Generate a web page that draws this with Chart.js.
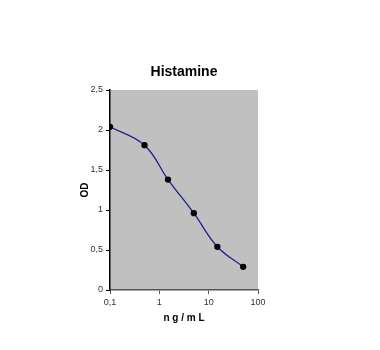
<!DOCTYPE html>
<html>
<head>
<meta charset="utf-8">
<script src="https://cdn.jsdelivr.net/npm/chart.js@4/dist/chart.umd.min.js"></script>
<style>
  html, body { margin: 0; padding: 0; background: #fff; }
  #wrap { width: 380px; height: 350px; }
</style>
</head>
<body>
<div id="wrap"><canvas id="c" width="380" height="350"></canvas></div>
<script>
const chartTitle = 'Histamine';
const concentrations = [0.1, 0.5, 1.5, 5, 15, 50];
const odValues = [2.04, 1.81, 1.38, 0.96, 0.54, 0.29];
const xTickValues = [0.1, 1, 10, 100];
const yTickValues = [0, 0.5, 1, 1.5, 2, 2.5];

const commaNum = v => String(v).replace('.', ',');
const fontFamily = 'Liberation Sans, Arial, sans-serif';

// grey plot area like the original spreadsheet chart, title centred over it
const plotDeco = {
  id: 'plotDeco',
  beforeDraw(chart) {
    const a = chart.chartArea;
    const ctx = chart.ctx;
    ctx.save();
    ctx.fillStyle = '#c0c0c0';
    ctx.fillRect(a.left, a.top, a.right - a.left, a.bottom - a.top);
    ctx.restore();
  },
  afterDraw(chart) {
    const a = chart.chartArea;
    const ctx = chart.ctx;
    ctx.save();
    ctx.fillStyle = '#000';
    ctx.font = 'bold 14px ' + fontFamily;
    ctx.textAlign = 'center';
    ctx.textBaseline = 'middle';
    ctx.fillText(chartTitle, (a.left + a.right) / 2, 72);
    ctx.restore();
  }
};

new Chart(document.getElementById('c'), {
  type: 'line',
  data: {
    datasets: [{
      data: concentrations.map((x, i) => ({ x: x, y: odValues[i] })),
      borderColor: '#20208c',
      borderWidth: 1.3,
      tension: 0.4,
      pointRadius: 2.5,
      pointBackgroundColor: '#000',
      pointBorderColor: '#000',
      fill: false
    }]
  },
  options: {
    responsive: false,
    animation: false,
    layout: { padding: { left: 75, right: 122, top: 90, bottom: 22 } },
    plugins: {
      legend: { display: false },
      tooltip: { enabled: false },
      title: { display: false }
    },
    scales: {
      x: {
        type: 'logarithmic',
        min: 0.1,
        max: 100,
        afterBuildTicks: s => { s.ticks = xTickValues.map(v => ({ value: v })); },
        afterFit: s => { s.height = 38; },
        grid: { drawOnChartArea: false, tickLength: 4, color: '#555' },
        border: { color: '#555', width: 1.5 },
        ticks: {
          callback: v => commaNum(v),
          color: '#333',
          padding: 3,
          maxRotation: 0,
          font: { family: fontFamily, size: 9 }
        },
        title: {
          display: true,
          text: 'n g / m L',
          color: '#000',
          font: { family: fontFamily, size: 10, weight: 'bold' },
          padding: { top: 4, bottom: 4 }
        }
      },
      y: {
        min: 0,
        max: 2.5,
        afterBuildTicks: s => { s.ticks = yTickValues.map(v => ({ value: v })); },
        afterFit: s => { s.width = 35; },
        grid: { drawOnChartArea: false, tickLength: 4, color: '#000' },
        border: { color: '#000', width: 1.5 },
        ticks: {
          callback: v => commaNum(v),
          color: '#333',
          padding: 3,
          font: { family: fontFamily, size: 9 }
        },
        title: {
          display: true,
          text: 'OD',
          color: '#000',
          font: { family: fontFamily, size: 10, weight: 'bold' },
          padding: { top: 4, bottom: 4 }
        }
      }
    }
  },
  plugins: [plotDeco]
});
</script>
</body>
</html>
